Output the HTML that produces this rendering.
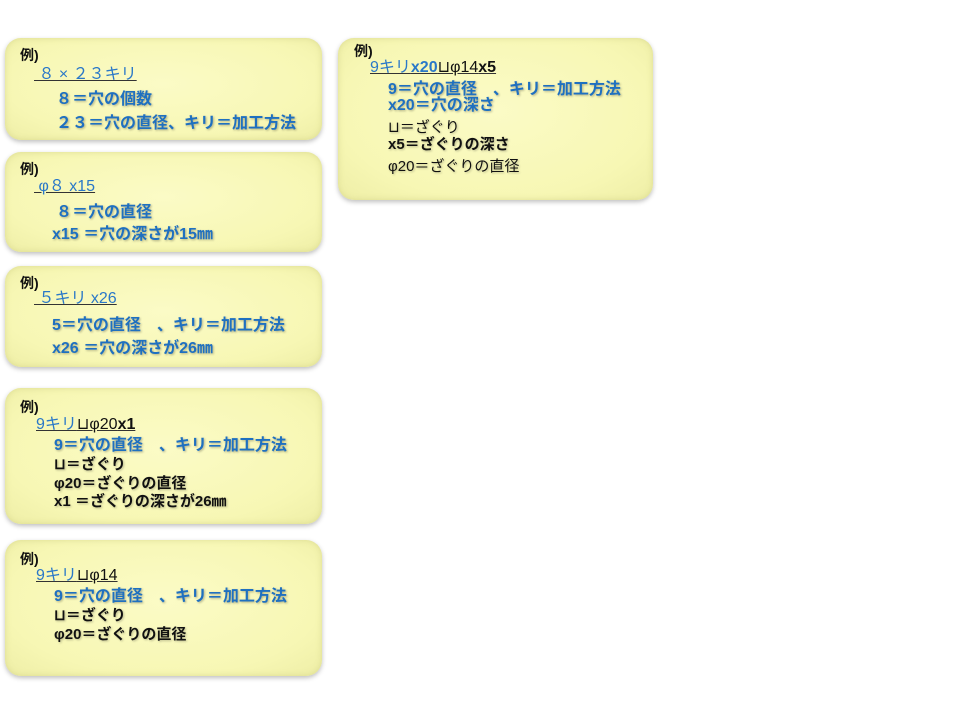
<!DOCTYPE html>
<html><head><meta charset="utf-8"><style>
body{margin:0;width:960px;height:720px;background:#fff;position:relative;overflow:hidden;font-family:"Liberation Sans","Noto Sans CJK JP",sans-serif;}
.b{position:absolute;border-radius:16px;background:radial-gradient(ellipse at 50% 45%,#fbfbc6 0%,#f7f7b4 70%,#eeeea6 100%);box-shadow:0 2px 5px rgba(0,0,0,.25),inset 0 0 6px rgba(200,200,120,.5);}
.t{position:absolute;white-space:nowrap;font-size:16px;line-height:18px;font-weight:bold;}
.k{color:#111;font-size:14px;}
.bl{color:#1f70c0;text-shadow:1px 1px 2px rgba(0,0,0,.3);}
.u{color:#2a78c8;font-weight:normal;font-size:16px;text-decoration:underline;text-decoration-color:#333;}
.d{color:#111;text-shadow:1px 1px 2px rgba(0,0,0,.25);}
.s{font-size:15px}
</style></head><body>
<div class="b" style="left:5px;top:38px;width:317px;height:102px"></div>
<div class="b" style="left:5px;top:152px;width:317px;height:100px"></div>
<div class="b" style="left:5px;top:266px;width:317px;height:101px"></div>
<div class="b" style="left:5px;top:388px;width:317px;height:136px"></div>
<div class="b" style="left:5px;top:540px;width:317px;height:136px"></div>
<div class="b" style="left:338px;top:38px;width:315px;height:162px"></div>

<div class="t k" style="left:20px;top:46px">例)</div>
<div class="t u" style="left:34px;top:66px">&nbsp;８ × ２３キリ</div>
<div class="t bl" style="left:56px;top:91px">８＝穴の個数</div>
<div class="t bl" style="left:56px;top:115px">２３＝穴の直径、キリ＝加工方法</div>

<div class="t k" style="left:20px;top:160px">例)</div>
<div class="t u" style="left:34px;top:178px">&nbsp;φ８ x15</div>
<div class="t bl" style="left:56px;top:204px">８＝穴の直径</div>
<div class="t bl" style="left:52px;top:226px">x15 ＝穴の深さが15㎜</div>

<div class="t k" style="left:20px;top:274px">例)</div>
<div class="t u" style="left:34px;top:290px">&nbsp;５キリ x26</div>
<div class="t bl" style="left:52px;top:317px">5＝穴の直径　、キリ＝加工方法</div>
<div class="t bl" style="left:52px;top:340px">x26 ＝穴の深さが26㎜</div>

<div class="t k" style="left:20px;top:398px">例)</div>
<div class="t u" style="left:36px;top:416px">9キリ<span style="color:#111">⊔φ20<b>x1</b></span></div>
<div class="t bl" style="left:54px;top:437px">9＝穴の直径　、キリ＝加工方法</div>
<div class="t d s" style="left:54px;top:456px">⊔＝ざぐり</div>
<div class="t d s" style="left:54px;top:475px">φ20＝ざぐりの直径</div>
<div class="t d s" style="left:54px;top:493px">x1 ＝ざぐりの深さが26㎜</div>

<div class="t k" style="left:20px;top:550px">例)</div>
<div class="t u" style="left:36px;top:567px">9キリ<span style="color:#111">⊔φ14</span></div>
<div class="t bl" style="left:54px;top:588px">9＝穴の直径　、キリ＝加工方法</div>
<div class="t d s" style="left:54px;top:607px">⊔＝ざぐり</div>
<div class="t d s" style="left:54px;top:626px">φ20＝ざぐりの直径</div>

<div class="t k" style="left:354px;top:42px">例)</div>
<div class="t u" style="left:370px;top:59px">9キリ<b>x20</b><span style="color:#111">⊔φ14<b>x5</b></span></div>
<div class="t bl" style="left:388px;top:81px">9＝穴の直径　、キリ＝加工方法</div>
<div class="t bl" style="left:388px;top:97px">x20＝穴の深さ</div>
<div class="t d s" style="left:388px;top:119px;font-weight:normal">⊔＝ざぐり</div>
<div class="t d s" style="left:388px;top:136px">x5＝ざぐりの深さ</div>
<div class="t d s" style="left:388px;top:158px;font-weight:normal">φ20＝ざぐりの直径</div>
</body></html>
